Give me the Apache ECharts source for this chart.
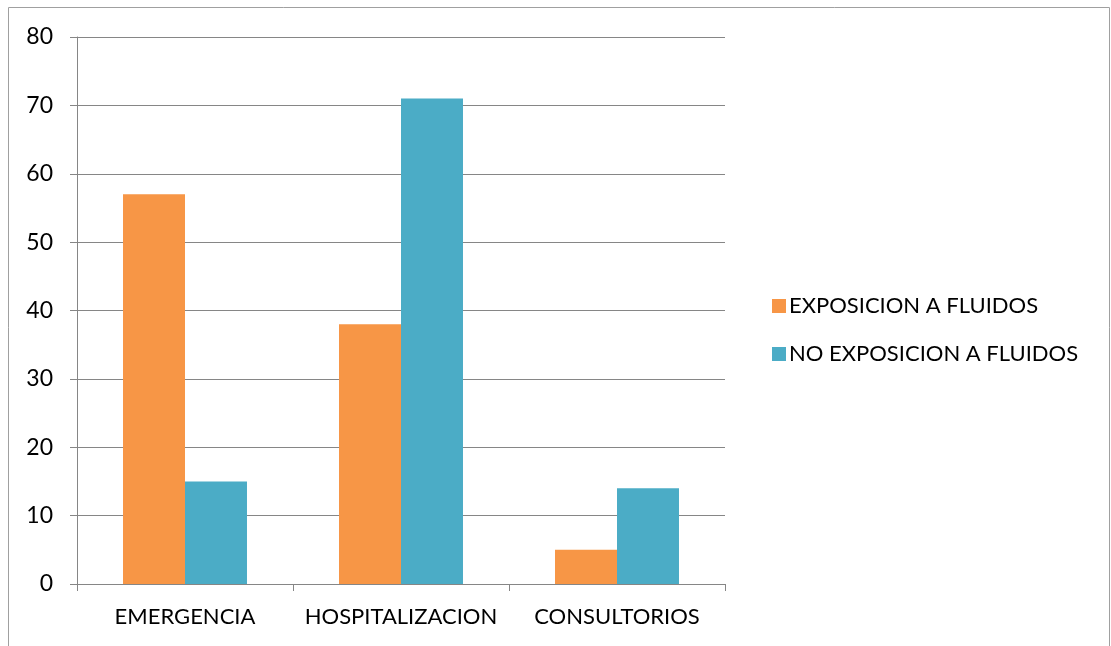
<!DOCTYPE html>
<html><head><meta charset="utf-8">
<script src="https://cdn.jsdelivr.net/npm/echarts@6/dist/echarts.min.js"></script>
<style>html,body{margin:0;padding:0;background:#fff}#c{width:1111px;height:646px}</style>
</head><body><div id="c"></div>
<script>
var categories = ['EMERGENCIA', 'HOSPITALIZACION', 'CONSULTORIOS'];
var exposicion = [57, 38, 5];
var noExposicion = [15, 71, 14];
var seriesNames = ['EXPOSICION A FLUIDOS', 'NO EXPOSICION A FLUIDOS'];
var chart = echarts.init(document.getElementById('c'));
var font = 'Lato';
chart.setOption({
  animation: false,
  graphic: [{type: 'rect', shape: {x: 8.5, y: 7.5, width: 1101, height: 660}, style: {fill: 'none', stroke: '#a0a0a0', lineWidth: 1}}],
  grid: {left: 77, right: 386, top: 37, bottom: 62},
  legend: {
    orient: 'vertical', left: 767, top: 290, itemWidth: 14, itemHeight: 14, itemGap: 26, icon: 'rect',
    textStyle: {fontFamily: font, fontSize: 22, color: '#000', padding: [0,0,0,-2]},
    data: seriesNames
  },
  xAxis: {
    type: 'category', data: categories,
    axisLine: {lineStyle: {color: '#868686'}},
    axisTick: {show: true, length: 7, lineStyle: {color: '#868686'}},
    axisLabel: {fontFamily: font, fontSize: 22, color: '#000', margin: 22, interval: 0}
  },
  yAxis: {
    type: 'value', min: 0, max: 80, interval: 10,
    axisLine: {show: true, lineStyle: {color: '#868686'}},
    axisTick: {show: true, length: 7, lineStyle: {color: '#868686'}},
    splitLine: {lineStyle: {color: '#868686'}},
    axisLabel: {fontFamily: font, fontSize: 23, color: '#000', margin: 24}
  },
  series: [
    {name: seriesNames[0], type: 'bar', data: exposicion, barGap: '0%', barCategoryGap: '42.6%', itemStyle: {color: '#F79646'}},
    {name: seriesNames[1], type: 'bar', data: noExposicion, barGap: '0%', barCategoryGap: '42.6%', itemStyle: {color: '#4BACC6'}}
  ]
});
</script></body></html>
